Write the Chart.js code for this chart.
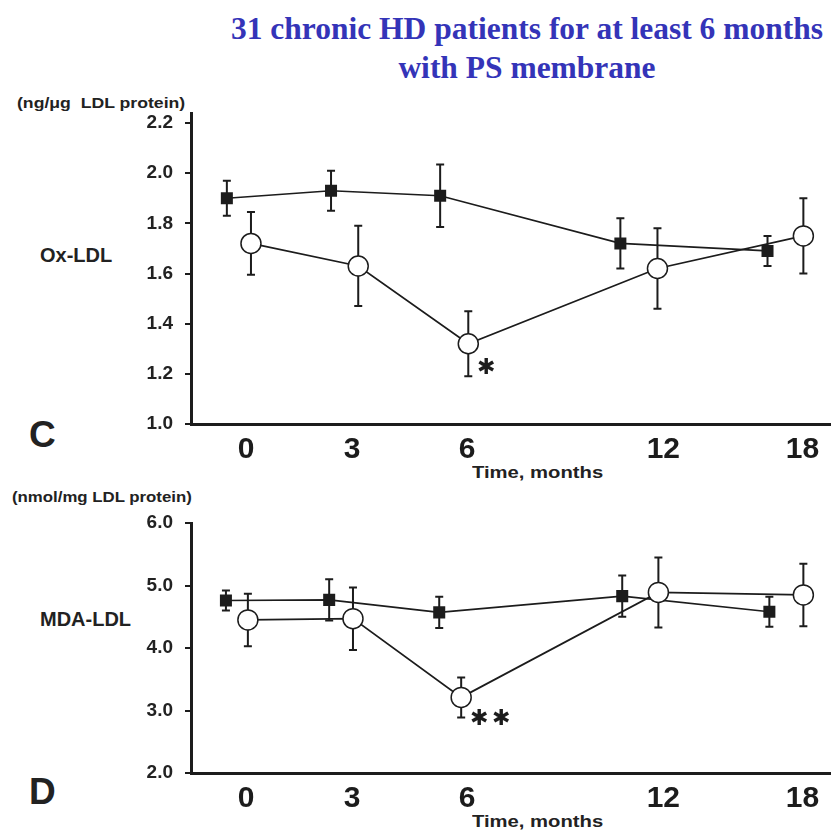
<!DOCTYPE html>
<html>
<head>
<meta charset="utf-8">
<script src="https://cdn.jsdelivr.net/npm/chart.js@4.4.1/dist/chart.umd.min.js"></script>
<style>
  html, body { margin: 0; padding: 0; background: #fff; }
  body { width: 831px; height: 831px; position: relative; overflow: hidden; font-family: 'Liberation Sans', Arial, sans-serif; }
  /* a bit wider than the page: Chart.js keeps half a marker of room on the right */
  .box { position: absolute; left: 0; width: 843px; }
  .txt { position: absolute; white-space: nowrap; color: #222; font-weight: bold; transform-origin: left top; }
  #title { position: absolute; left: 222px; width: 610px; top: 9px; text-align: center;
           font-family: 'Liberation Serif', 'Times New Roman', serif; font-weight: bold;
           font-size: 31.5px; line-height: 39px; color: #3434b8; }
</style>
</head>
<body>
<div id="title">31 chronic HD patients for at least 6 months<br>with PS membrane</div>

<div class="txt" style="left:17px; top:95px; font-size:14px; transform:scaleX(1.26);">(ng/μg&nbsp; LDL protein)</div>
<div class="txt" style="left:40px; top:244px; font-size:20px;">Ox-LDL</div>
<div class="txt" style="left:29px; top:414px; font-size:37px;">C</div>
<div class="txt" style="left:472px; top:463px; font-size:17px; transform:scaleX(1.19);">Time, months</div>

<div class="txt" style="left:12px; top:489px; font-size:14px; transform:scaleX(1.2);">(nmol/mg LDL protein)</div>
<div class="txt" style="left:40px; top:608px; font-size:20px;">MDA-LDL</div>
<div class="txt" style="left:29px; top:771px; font-size:37px;">D</div>
<div class="txt" style="left:472px; top:812px; font-size:17px; transform:scaleX(1.19);">Time, months</div>

<div class="box" style="top:95px; height:385px;"><canvas id="chartC"></canvas></div>
<div class="box" style="top:490px; height:341px;"><canvas id="chartD"></canvas></div>

<script>
// x axis: time labels and where they sit (the original axis is not evenly spaced)
const timeLabels = ['0', '3', '6', '12', '18'];
const timeTickPos = [0, 3.43, 7.15, 13.5, 18];

// panel C: Ox-LDL (ng/ug LDL protein)
const ticksC = [1.0, 1.2, 1.4, 1.6, 1.8, 2.0, 2.2];
const filledXC = [-0.62, 2.75, 6.28, 12.11, 16.87];
const filledC = [1.90, 1.93, 1.91, 1.72, 1.69];
const filledErrC = [0.07, 0.08, 0.125, 0.10, 0.06];
const openXC = [0.16, 3.63, 7.19, 13.31, 18.03];
const openC = [1.72, 1.63, 1.32, 1.62, 1.75];
const openErrC = [0.125, 0.16, 0.13, 0.16, 0.15];
const openMarksC = ['', '', '*', '', ''];

// panel D: MDA-LDL (nmol/mg LDL protein)
const ticksD = [2.0, 3.0, 4.0, 5.0, 6.0];
const filledXD = [-0.65, 2.69, 6.25, 12.17, 16.93];
const filledD = [4.76, 4.77, 4.57, 4.83, 4.58];
const filledErrD = [0.16, 0.33, 0.25, 0.33, 0.24];
const openXD = [0.06, 3.46, 6.96, 13.34, 18.03];
const openD = [4.45, 4.47, 3.21, 4.89, 4.85];
const openErrD = [0.42, 0.50, 0.32, 0.56, 0.50];
const openMarksD = ['', '', '**', '', ''];

const ink = '#1c1c1c';

// vertical error bars with small caps, drawn under lines and markers
const errorBars = {
    id: 'errorBars',
    beforeDatasetsDraw(chart) {
        const { ctx, scales: { x, y } } = chart;
        ctx.save();
        ctx.strokeStyle = ink;
        ctx.lineWidth = 2;
        chart.data.datasets.forEach(ds => {
            ds.data.forEach((p, i) => {
                const px = x.getPixelForValue(p.x);
                const top = y.getPixelForValue(p.y + ds.err[i]);
                const bot = y.getPixelForValue(p.y - ds.err[i]);
                ctx.beginPath();
                ctx.moveTo(px, top); ctx.lineTo(px, bot);
                ctx.moveTo(px - 4, top); ctx.lineTo(px + 4, top);
                ctx.moveTo(px - 4, bot); ctx.lineTo(px + 4, bot);
                ctx.stroke();
            });
        });
        ctx.restore();
    },
    // significance asterisks below-right of a point, one glyph per '*'
    afterDatasetsDraw(chart) {
        const { ctx, scales: { x, y } } = chart;
        const markDy = chart.options.markDy;
        ctx.save();
        ctx.fillStyle = ink;
        ctx.font = '22px "DejaVu Sans", sans-serif';
        ctx.textAlign = 'center';
        ctx.textBaseline = 'alphabetic';
        const glyph = '\u2731';
        const m = ctx.measureText(glyph);
        const mid = (m.actualBoundingBoxAscent - m.actualBoundingBoxDescent) / 2;
        chart.data.datasets.forEach(ds => {
            if (!ds.marks) return;
            ds.marks.forEach((mark, i) => {
                if (!mark) return;
                const p = ds.data[i];
                const px = x.getPixelForValue(p.x);
                const py = y.getPixelForValue(p.y);
                for (let k = 0; k < mark.length; k++) {
                    ctx.fillText(glyph, px + 18 + k * 22, py + markDy + mid);
                }
            });
        });
        ctx.restore();
    }
};

function points(xs, ys) {
    return xs.map((v, i) => ({ x: v, y: ys[i] }));
}

function makePanel(id, opts) {
    return new Chart(document.getElementById(id), {
        type: 'line',
        data: {
            datasets: [
                {
                    data: points(opts.openX, opts.open),
                    err: opts.openErr,
                    marks: opts.marks,
                    borderColor: ink,
                    borderWidth: 1.7,
                    pointStyle: 'circle',
                    pointRadius: 10,
                    pointBackgroundColor: '#fff',
                    pointBorderColor: ink,
                    pointBorderWidth: 1.5
                },
                {
                    data: points(opts.filledX, opts.filled),
                    err: opts.filledErr,
                    borderColor: ink,
                    borderWidth: 1.7,
                    pointStyle: 'rect',
                    pointRadius: 8.5,
                    pointBackgroundColor: ink,
                    pointBorderColor: ink,
                    pointBorderWidth: 0
                }
            ]
        },
        options: {
            responsive: true,
            maintainAspectRatio: false,
            animation: false,
            events: [],
            markDy: opts.markDy,
            layout: { padding: { top: opts.padTop, left: 0, right: 0, bottom: 0 } },
            plugins: { legend: { display: false }, tooltip: { enabled: false } },
            scales: {
                x: {
                    type: 'linear',
                    min: -1.78,
                    max: 18.94,
                    afterFit: s => { s.height = opts.xHeight; s.paddingLeft = 0; s.paddingRight = 0; },
                    afterBuildTicks: s => { s.ticks = timeTickPos.map(v => ({ value: v })); },
                    grid: { display: false, drawTicks: false },
                    border: { display: true, width: 3, color: ink },
                    ticks: {
                        padding: 8,
                        color: ink,
                        font: { family: '"Liberation Sans", Arial, sans-serif', size: 30, weight: 'bold' },
                        callback: (v, i) => timeLabels[i]
                    }
                },
                y: {
                    type: 'linear',
                    min: opts.yMin,
                    max: opts.yMax,
                    afterFit: s => { s.width = 191; s.paddingTop = 0; s.paddingBottom = 0; },
                    afterBuildTicks: s => { s.ticks = opts.yTicks.map(v => ({ value: v })); },
                    grid: { drawOnChartArea: false, drawTicks: true, tickLength: 6, tickColor: ink, lineWidth: 2 },
                    border: { display: true, width: 3, color: ink },
                    ticks: {
                        padding: 12,
                        color: '#222',
                        font: { family: '"Liberation Sans", Arial, sans-serif', size: 19, weight: 'bold' },
                        callback: v => v.toFixed(1)
                    }
                }
            }
        },
        plugins: [errorBars]
    });
}

makePanel('chartC', {
    openX: openXC, open: openC, openErr: openErrC, marks: openMarksC,
    filledX: filledXC, filled: filledC, filledErr: filledErrC,
    yMin: 1.0, yMax: 2.24, yTicks: ticksC, padTop: 18, xHeight: 56, markDy: 22
});

makePanel('chartD', {
    openX: openXD, open: openD, openErr: openErrD, marks: openMarksD,
    filledX: filledXD, filled: filledD, filledErr: filledErrD,
    yMin: 2.0, yMax: 6.0, yTicks: ticksD, padTop: 33, xHeight: 58, markDy: 19
});
</script>
</body>
</html>
